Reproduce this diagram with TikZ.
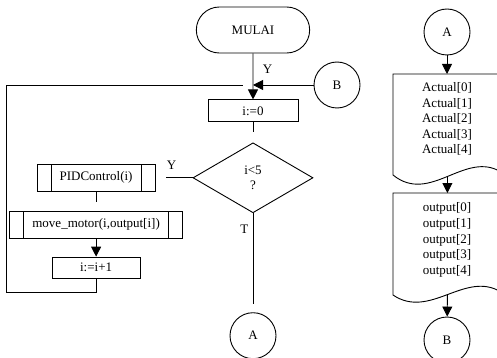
\documentclass[tikz,border=0pt]{standalone}
\usepackage{fontspec}
\setmainfont{Liberation Serif}
\usetikzlibrary{positioning, arrows.meta, shapes.geometric, shapes.misc}

\begin{document}
\begin{tikzpicture}[
  x=1pt, y=-1pt,
  line width=0.9pt,
  every node/.style={font=\fontsize{13}{15.6}\selectfont},
  term/.style={
    draw, rounded rectangle,
    minimum width=120pt, minimum height=46pt,
  },
  proc/.style={
    draw, rectangle,
    minimum height=22pt, inner sep=2pt,
  },
  subproc/.style={
    draw, rectangle,
    minimum height=27pt, inner xsep=18pt,
    path picture={
      \draw ([xshift=14pt]path picture bounding box.north west)
        -- ([xshift=14pt]path picture bounding box.south west);
      \draw ([xshift=-14pt]path picture bounding box.north east)
        -- ([xshift=-14pt]path picture bounding box.south east);
    },
  },
  decision/.style={
    draw, diamond,
    minimum width=120pt, minimum height=70pt,
    inner sep=1pt, align=center,
  },
  conn/.style={draw, circle, minimum size=46pt, inner sep=0pt},
  doclines/.style={align=center, inner sep=0pt},
  arr/.style={-{Triangle[width=10pt, length=10pt]}},
  gap/.style={shorten >=#1},
]
  \useasboundingbox (0,0) rectangle (497,358);
  \clip (0,0) rectangle (497,358);

  % main flow
  \node[term]                                       (mulai) at (253,30) {MULAI};
  \node[proc, minimum width=90pt, below=46pt of mulai] (init) {i:=0};
  \node[decision, below=20pt of init]                (cek)  {i<5\\?};
  \node[subproc, minimum width=118pt, left=37pt of cek] (pid) {PIDControl(i)};
  \node[subproc, minimum width=173pt, below=19pt of pid] (move) {move\_motor(i,output[i])};
  \node[proc, minimum width=88pt, minimum height=21pt, below=18pt of move] (inc) {i:=i+1};
  \node[conn, below=99pt of cek]                     (outa) {A};
  \node[conn]                                        (inb)  at (337,85) {B};

  \coordinate (back) at (243,85);
  \coordinate (edge) at (6,292);

  \draw[arr] (mulai) -- node[pos=0.35, right=6pt] (ly) {Y} (init);
  \draw[arr] (inb) -- (mulai |- inb);
  \draw[gap=10pt] (init) -- (cek);
  \draw[gap=10pt] (cek.west) -- node[pos=0.57, above=5pt] (lyes) {Y} (cek.west -| pid.east);
  \draw[gap=9pt] (pid) -- (move);
  \draw[arr] (move) -- (inc);
  \draw (inc) |- (edge) |- (back);
  \draw[gap=8pt] (cek) -- node[pos=0.16, left=1pt] (lno) {T} (outa);

  % data
  \node[conn] (ina) at (447,32) {A};
  \coordinate (d1top) at (447,74);
  \node[doclines] (act) at (447,119)
    {Actual[0]\\Actual[1]\\Actual[2]\\Actual[3]\\Actual[4]};
  \draw (501,74) -- (393,74) -- (393,175)
    .. controls (430,205) and (465,150) .. (501,172) coordinate[pos=0.5] (w1);

  \coordinate (d2top) at (447,193);
  \node[doclines] (outp) at (447,240)
    {output[0]\\output[1]\\output[2]\\output[3]\\output[4]};
  \draw (501,193) -- (393,193) -- (393,295)
    .. controls (430,320) and (465,270) .. (501,292) coordinate[pos=0.5] (w2);
  \node[conn] (outb) at (447,340) {B};

  \draw[arr] (ina) -- (d1top);
  \draw[arr] (w1) -- (w1 |- d2top);
  \draw[arr] (w2) -- (outb);
\end{tikzpicture}
\end{document}
